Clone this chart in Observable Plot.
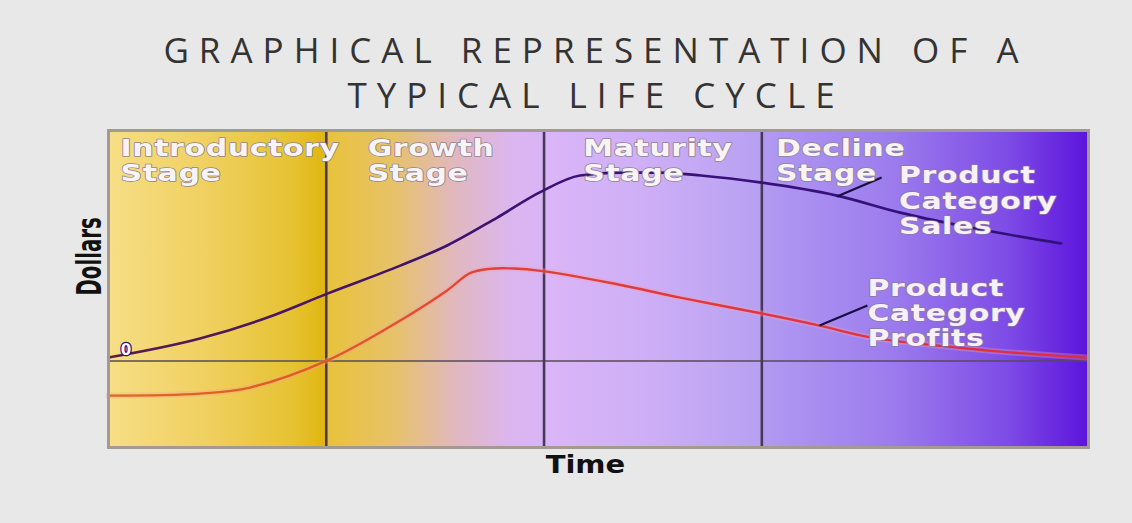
<!DOCTYPE html>
<html>
<head>
<meta charset="utf-8">
<script src="https://cdn.jsdelivr.net/npm/d3@7"></script>
<script src="https://cdn.jsdelivr.net/npm/@observablehq/plot@0.6"></script>
<style>
  html, body { margin: 0; padding: 0; background: #e8e8e8; }
  #wrap { width: 1132px; height: 523px; overflow: hidden; background: #e8e8e8; }
  #title {
    box-sizing: border-box; width: 1132px; height: 120px; padding: 27px 0 0 60px;
    text-align: center; font-family: "Open Sans", sans-serif; font-size: 35px;
    line-height: 45px; letter-spacing: 10px; color: #333; font-weight: 400;
  }
  svg { display: block; }
</style>
</head>
<body>
<div id="wrap">
  <div id="title">GRAPHICAL REPRESENTATION OF A<br>TYPICAL LIFE CYCLE</div>
  <div id="chart"></div>
</div>
<script>
// ---- data ----
const stageNames = ["Introductory\nStage", "Growth\nStage", "Maturity\nStage", "Decline\nStage"];
const stageStarts = [0, 2, 4, 6];
const stageEnds = [2, 4, 6, 9];

const salesTime = [0.0, 0.84, 1.46, 2.01, 2.68, 3.11, 3.57, 3.96, 4.33, 4.70, 5.07, 5.44, 6.00, 6.69, 7.27, 7.82, 8.75];
const salesDollars = [0.12, 0.78, 1.51, 2.34, 3.31, 4.01, 4.98, 5.85, 6.44, 6.54, 6.54, 6.44, 6.19, 5.74, 5.15, 4.70, 4.08];

const profitTime = [0.0, 0.84, 1.30, 2.01, 2.68, 3.11, 3.32, 3.50, 3.72, 3.97, 4.64, 5.25, 6.00, 6.53, 7.00, 8.06, 8.98];
const profitDollars = [-1.20, -1.13, -0.92, 0.02, 1.41, 2.45, 3.05, 3.20, 3.21, 3.13, 2.69, 2.20, 1.65, 1.23, 0.82, 0.37, 0.12];

const seriesLabels = ["Product\nCategory\nSales", "Product\nCategory\nProfits"];
const labelTime = [7.26, 6.97];
const labelDollars = [5.57, 1.68];
const leaderFromTime = [7.10, 6.97];
const leaderFromDollars = [6.37, 1.93];
const leaderToTime = [6.69, 6.53];
const leaderToDollars = [5.71, 1.23];

const stageLabelTime = [0.11, 2.38, 4.36, 6.13];
const stageLabelDollars = [6.97, 6.97, 6.97, 6.97];

const xTitle = "Time";
const yTitle = "Dollars";
const originLabel = "0";

// ---- build tables ----
const stages = stageNames.map((n, i) => ({name: n, start: stageStarts[i], end: stageEnds[i], lx: stageLabelTime[i], ly: stageLabelDollars[i]}));
const sales = salesTime.map((t, i) => ({t, v: salesDollars[i]}));
const profits = profitTime.map((t, i) => ({t, v: profitDollars[i]}));
const series = seriesLabels.map((s, i) => ({label: s, x: labelTime[i], y: labelDollars[i],
  x1: leaderFromTime[i], y1: leaderFromDollars[i], x2: leaderToTime[i], y2: leaderToDollars[i]}));

const gradIds = ["g0", "g1", "g2", "g3"];
const textFont = "'DejaVu Sans', sans-serif";

const marks = [];
stages.forEach((s, i) => {
  marks.push(Plot.rect([s], {x1: "start", x2: "end", fill: `url(#${gradIds[i]})`}));
});
marks.push(
  Plot.ruleY([0], {stroke: "#5a4858", strokeWidth: 1.6}),
  Plot.ruleX(stageStarts.slice(1), {stroke: "#4a3858", strokeWidth: 2.6}),
  Plot.line(profits, {x: "t", y: "v", curve: "catmull-rom", stroke: "#f0a0b0", strokeWidth: 6, strokeOpacity: 0.35}),
  Plot.line(profits, {x: "t", y: "v", curve: "catmull-rom", stroke: "url(#gp)", strokeWidth: 2.4}),
  Plot.line(sales, {x: "t", y: "v", curve: "monotone-x", stroke: "url(#gs)", strokeWidth: 2.6}),
  Plot.link(series, {x1: "x1", y1: "y1", x2: "x2", y2: "y2", stroke: "#1a0e40", strokeWidth: 2.2}),
  Plot.text(stages, {x: "lx", y: "ly", text: "name", textAnchor: "start", lineAnchor: "middle", lineHeight: 1.09,
    fontSize: 23, fontWeight: "bold", fontFamily: textFont, fill: "#f8f4f6", stroke: "#8e8494", strokeWidth: 1.4,
    paintOrder: "stroke"}),
  Plot.text(series, {x: "x", y: "y", text: "label", textAnchor: "start", lineAnchor: "middle", lineHeight: 1.09,
    fontSize: 23, fontWeight: "bold", fontFamily: textFont, fill: "#f8f0f8", stroke: "#8a7aa0", strokeWidth: 1.4,
    paintOrder: "stroke"}),
  Plot.text([originLabel], {x: 0.16, y: 0.36, text: d => d, fontSize: 15, fontWeight: "bold", fontFamily: textFont,
    fill: "#ffffff", stroke: "#2a1080", strokeWidth: 2.5, paintOrder: "stroke"}),
  Plot.text([yTitle], {x: -0.17, y: 3.63, text: d => d, rotate: -90, fontSize: 34, fontWeight: "bold",
    fontFamily: textFont, fill: "#111"}),
  Plot.text([xTitle], {x: 4.38, y: -3.59, text: d => d, fontSize: 25, fontWeight: "bold", fontFamily: textFont,
    fill: "#111"}),
  Plot.frame({stroke: "#a39b92", strokeWidth: 3})
);

const svg = Plot.plot({
  width: 1132,
  height: 403,
  marginTop: 10,
  marginBottom: 76,
  marginLeft: 108,
  marginRight: 44,
  x: {domain: [0, 9], axis: null},
  y: {domain: [-3, 8], axis: null},
  style: {background: "#e8e8e8", overflow: "visible"},
  marks
});

const sel = d3.select(svg);
const defs = sel.insert("defs", ":first-child");
function grad(id, stops) {
  const g = defs.append("linearGradient").attr("id", id).attr("x1", 0).attr("x2", 1).attr("y1", 0).attr("y2", 0);
  stops.forEach(([o, c]) => g.append("stop").attr("offset", o).attr("stop-color", c));
}
grad("g0", [[0, "#f7de86"], [0.45, "#f0d060"], [0.85, "#e6c232"], [1, "#dfb60e"]]);
grad("g1", [[0, "#e9c23a"], [0.3, "#e7c266"], [0.6, "#e1b8c0"], [0.85, "#dbb6ee"], [1, "#d9b4f6"]]);
grad("g2", [[0, "#dbb6f8"], [0.5, "#cdaef6"], [1, "#b7a0f2"]]);
grad("g3", [[0, "#b29af2"], [0.4, "#9c7ced"], [0.75, "#7e4ce6"], [1, "#5c14dc"]]);
grad("gp", [[0, "#e06a10"], [0.25, "#e05a18"], [0.4, "#e0403a"], [1, "#e02a44"]]);
grad("gs", [[0, "#5a1a50"], [0.35, "#3e1270"], [1, "#30107e"]]);

// horizontally stretch/condense text to match the picture's lettering
function stretch(fontSize, factor, spacing) {
  sel.selectAll("g").filter(function () { return this.getAttribute("font-size") === String(fontSize); })
    .attr("letter-spacing", spacing)
    .selectAll("text").attr("transform", function () {
      return (this.getAttribute("transform") || "") + ` scale(${factor},1)`;
    });
}
stretch(23, 1.3, 0.5);
stretch(25, 1.16, 0);
stretch(34, 0.58, 0);

document.getElementById("chart").appendChild(svg);
</script>
</body>
</html>
